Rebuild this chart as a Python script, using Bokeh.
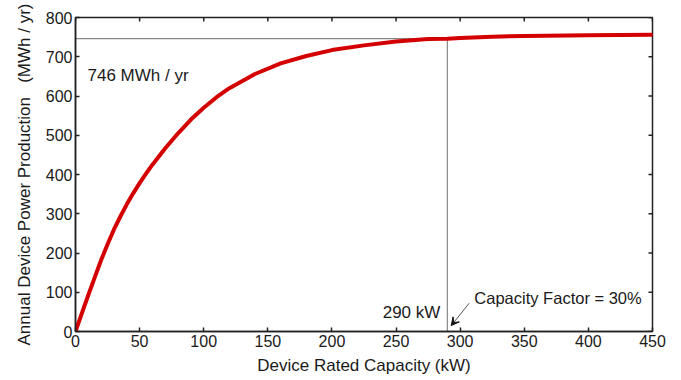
import math
from bokeh.plotting import figure
from bokeh.models import Range1d, FixedTicker, Label, Arrow, VeeHead
from bokeh.embed import file_html
from bokeh.resources import INLINE

# ---- data ----
capacity_kw = [0, 5, 10, 15, 20, 25, 30, 35, 40, 45, 50, 55, 60, 70, 80, 90, 100, 110,
               120, 140, 160, 180, 200, 225, 250, 275, 290, 300, 325, 350, 400, 450]
production_mwh = [0, 47, 93, 138, 182, 222, 260, 293, 324, 352, 378, 402, 425, 467, 505,
                  540, 570, 597, 620, 656, 683, 702, 717, 729, 739, 745, 746, 748, 751,
                  753, 755, 756]
rated_kw = 290
rated_mwh = 746
x_ticks = [0, 50, 100, 150, 200, 250, 300, 350, 400, 450]
y_ticks = [0, 100, 200, 300, 400, 500, 600, 700, 800]
x_max = 450
y_max = 800

FONT = "Liberation Sans"
TXT = "#1a1a1a"
AX = "#222222"

p = figure(width=681, height=380, output_backend="svg", toolbar_location=None,
           x_range=Range1d(0, x_max), y_range=Range1d(0, y_max),
           min_border_left=75, min_border_right=29, min_border_top=17, min_border_bottom=49)
p.background_fill_color = "white"
p.border_fill_color = "white"
p.grid.visible = False
p.outline_line_color = AX
p.outline_line_width = 1.5

for ax in (p.xaxis[0], p.yaxis[0]):
    ax.major_tick_in = 4
    ax.major_tick_out = 0
    ax.minor_tick_line_color = None
    ax.axis_line_color = AX
    ax.axis_line_width = 1.5
    ax.major_tick_line_color = AX
    ax.major_tick_line_width = 1.5
    ax.major_label_text_font = FONT
    ax.major_label_text_font_size = "16px"
    ax.major_label_text_color = TXT
    ax.axis_label_text_font = FONT
    ax.axis_label_text_font_size = "17px"
    ax.axis_label_text_font_style = "normal"
    ax.axis_label_text_color = TXT

p.xaxis[0].ticker = FixedTicker(ticks=x_ticks)
p.yaxis[0].ticker = FixedTicker(ticks=y_ticks)
p.xaxis[0].axis_label = "Device Rated Capacity (kW)"
p.yaxis[0].axis_label = "Annual Device Power Production\u00a0\u00a0\u00a0(MWh / yr)"
p.xaxis[0].major_label_standoff = 3
p.yaxis[0].major_label_standoff = 3
p.xaxis[0].axis_label_standoff = 6
p.yaxis[0].axis_label_standoff = 9

# inward ticks on the top and right edges of the box (clipped to the frame)
p.scatter(x_ticks, [y_max] * len(x_ticks), marker="dash", size=8, angle=math.pi / 2,
          line_color=AX, line_width=1.5)
p.scatter([x_max] * len(y_ticks), y_ticks, marker="dash", size=8,
          line_color=AX, line_width=1.5)

# dotted reference lines
p.line([0, rated_kw], [rated_mwh, rated_mwh], line_color="#111111", line_width=1.2, line_dash="1 1")
p.line([rated_kw, rated_kw], [0, rated_mwh], line_color="#111111", line_width=1.2, line_dash="1 1")

# main curve
p.line(capacity_kw, production_mwh, line_color="#d40000", line_width=4, line_cap="round",
       line_join="round")

# labels
p.add_layout(Label(x=0, y=rated_mwh, x_offset=12, y_offset=-37, text=f"{rated_mwh} MWh / yr",
                   text_font=FONT, text_font_size="17px", text_color=TXT,
                   text_baseline="alphabetic"))
p.add_layout(Label(x=rated_kw, y=0, x_offset=-7, y_offset=19, text=f"{rated_kw} kW",
                   text_font=FONT, text_font_size="17px", text_color=TXT,
                   text_align="right", text_baseline="alphabetic"))
p.add_layout(Label(x=rated_kw, y=0, x_offset=27, y_offset=34, text="Capacity Factor = 30%",
                   text_font=FONT, text_font_size="16.5px", text_color=TXT,
                   text_baseline="alphabetic"))
p.add_layout(Arrow(x_start=rated_kw + 17, y_start=72, x_end=rated_kw + 3, y_end=15,
                   line_color="#555555", line_width=1,
                   end=VeeHead(size=8, fill_color="#111111", line_color="#111111", line_width=1)))

open("out.html", "w").write(file_html(p, INLINE))
